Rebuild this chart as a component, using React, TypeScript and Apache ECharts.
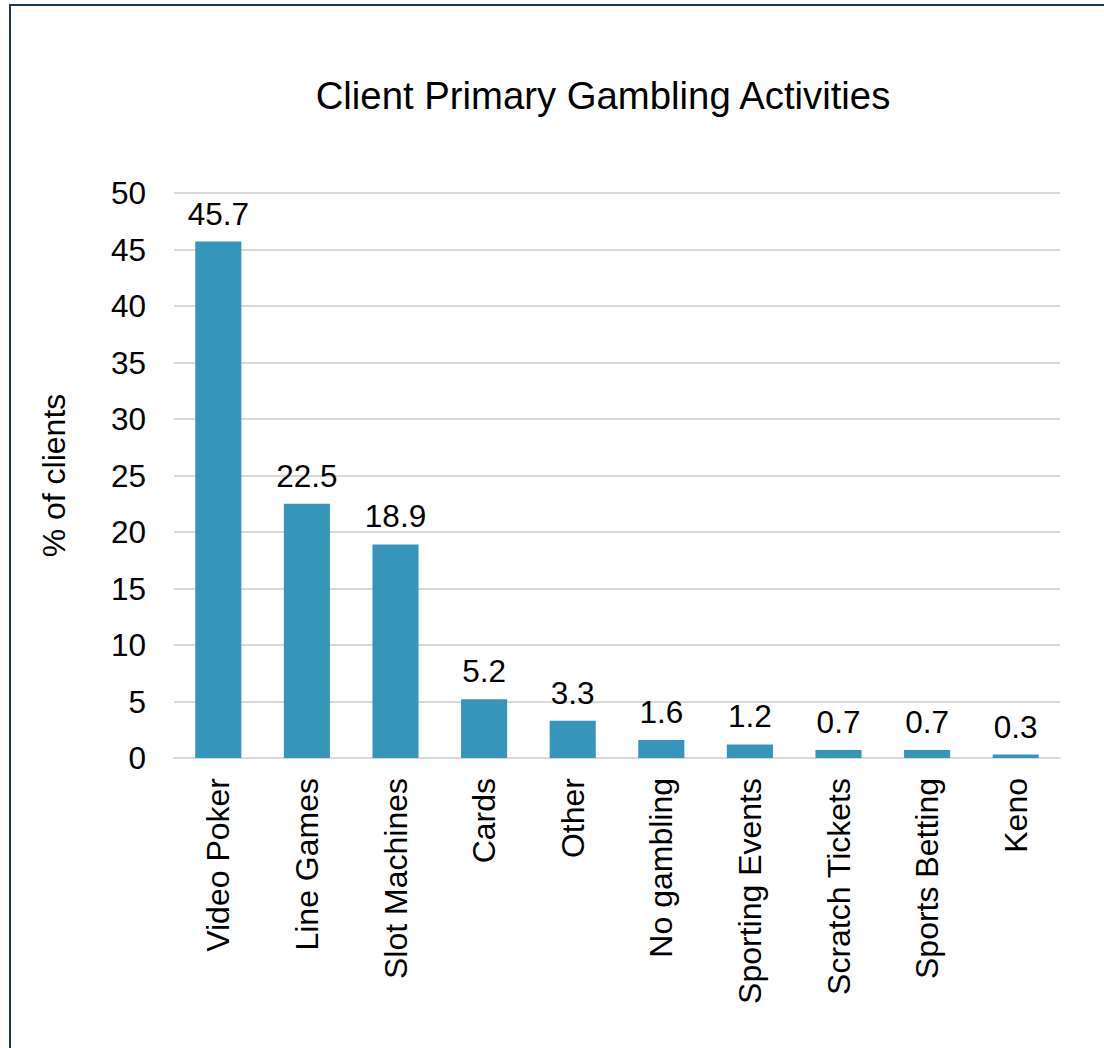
import React, { useEffect, useRef } from "react";
import * as echarts from "echarts";

const categories = [
  "Video Poker",
  "Line Games",
  "Slot Machines",
  "Cards",
  "Other",
  "No gambling",
  "Sporting Events",
  "Scratch Tickets",
  "Sports Betting",
  "Keno",
];
const values = [45.7, 22.5, 18.9, 5.2, 3.3, 1.6, 1.2, 0.7, 0.7, 0.3];
const yMin = 0;
const yMax = 50;
const yInterval = 5;
const titleText = "Client Primary Gambling Activities";
const yAxisName = "% of clients";

const FONT = "'Liberation Sans', Arial, Helvetica, sans-serif";

export default function App() {
  const ref = useRef<HTMLDivElement>(null);
  useEffect(() => {
    document.body.style.margin = "0";
    const chart = echarts.init(ref.current!, null, { renderer: "svg" });
    chart.setOption({
      animation: false,
      backgroundColor: "#ffffff",
      textStyle: { fontFamily: FONT },
      graphic: [
        {
          type: "rect",
          shape: { x: 10, y: 5, width: 1200, height: 1200 },
          style: { fill: "none", stroke: "#1b3a4f", lineWidth: 2 },
          silent: true,
        },
        {
          type: "text",
          x: 603,
          y: 95,
          style: {
            text: titleText,
            fill: "#000000",
            font: `38.3px ${FONT}`,
            textAlign: "center",
            textVerticalAlign: "middle",
          },
        },
      ],
      grid: { left: 174, right: 44, top: 193, bottom: 290, containLabel: false },
      xAxis: {
        type: "category",
        data: categories,
        axisLine: { show: true, lineStyle: { color: "#d9d9d9", width: 2 } },
        axisTick: { show: false },
        axisLabel: {
          rotate: 90,
          margin: 20,
          color: "#000000",
          fontSize: 32,
          fontFamily: FONT,
          interval: 0,
        },
      },
      yAxis: {
        type: "value",
        min: yMin,
        max: yMax,
        interval: yInterval,
        name: yAxisName,
        nameLocation: "middle",
        nameRotate: 90,
        nameGap: 104,
        nameTextStyle: { color: "#000000", fontSize: 32, fontFamily: FONT },
        axisLine: { show: false },
        axisTick: { show: false },
        splitLine: { lineStyle: { color: "#d9d9d9", width: 2 } },
        axisLabel: {
          margin: 28,
          color: "#000000",
          fontSize: 31.5,
          fontFamily: FONT,
        },
      },
      series: [
        {
          type: "bar",
          data: values,
          barWidth: "52%",
          itemStyle: { color: "#3795bb" },
          label: {
            show: true,
            position: "top",
            distance: 12,
            color: "#000000",
            fontSize: 31.5,
            fontFamily: FONT,
          },
        },
      ],
    });
    return () => chart.dispose();
  }, []);
  return <div ref={ref} style={{ width: 1104, height: 1048 }} />;
}
